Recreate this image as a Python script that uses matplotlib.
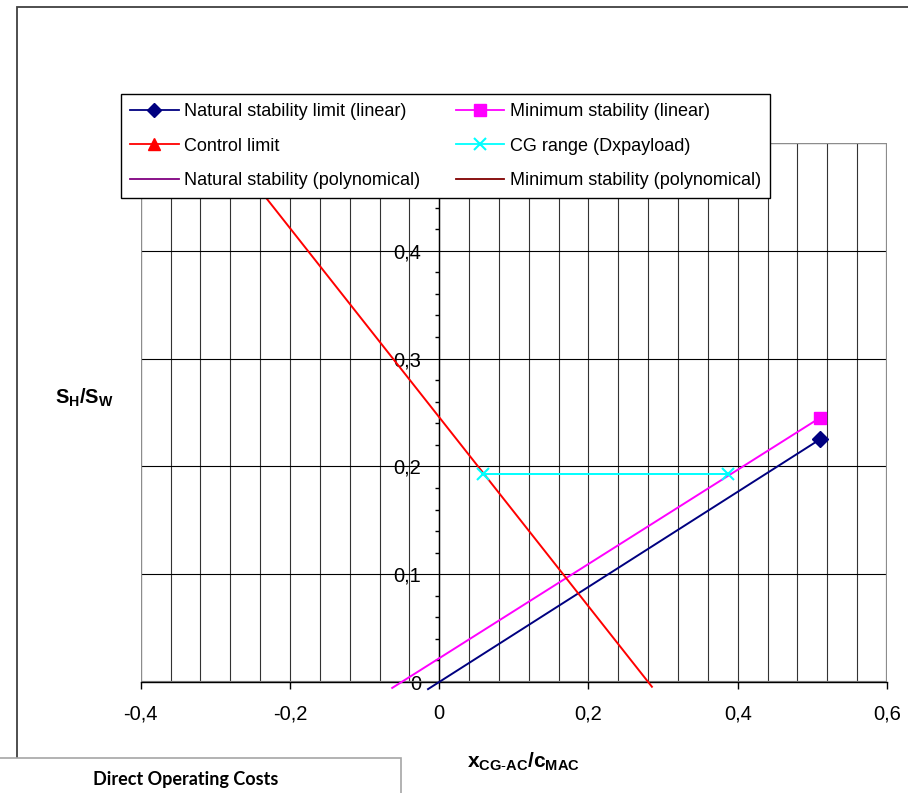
import numpy as np
import matplotlib.pyplot as plt
from matplotlib.lines import Line2D
from matplotlib.patches import Rectangle
from matplotlib.ticker import MultipleLocator, FuncFormatter

W, H = 908, 793

# x = x_cg-ac / c_mac, y = S_H / S_W
nat_x = [-0.015, 0.51]
nat_y = [-0.0066, 0.225]
min_x = [-0.063, 0.51]
min_y = [-0.0055, 0.245]
ctrl_x = [-0.29, 0.285]
ctrl_y = [0.5, -0.0044]
cg_x = [0.058, 0.387]
cg_y = [0.193, 0.193]
# polynomial fits were left empty in the sheet
nat_poly_x, nat_poly_y = [], []
min_poly_x, min_poly_y = [], []

x_ticks = [-0.4, -0.2, 0.0, 0.2, 0.4, 0.6]
y_ticks = [0.0, 0.1, 0.2, 0.3, 0.4, 0.5]


def fx(x):
    return x / W


def fy(y):
    return 1 - y / H


def comma(v, pos=None):
    if abs(v) < 1e-9:
        return "0"
    return ("%g" % round(v, 2)).replace(".", ",")


plt.rcParams['font.family'] = ['Liberation Sans', 'DejaVu Sans']
plt.rcParams['mathtext.fontset'] = 'custom'
plt.rcParams['mathtext.rm'] = 'Liberation Sans'
plt.rcParams['mathtext.it'] = 'Liberation Sans:italic'
plt.rcParams['mathtext.bf'] = 'Liberation Sans:bold'

fig = plt.figure(figsize=(W / 100, H / 100), dpi=100)

# outer chart frame
fig.add_artist(Rectangle((fx(17), fy(800)), fx(915) - fx(17), fy(7) - fy(800),
                         transform=fig.transFigure, fill=False,
                         edgecolor='#404040', lw=1.3, clip_on=False))

ax = fig.add_axes([fx(140.7), fy(682), fx(887) - fx(140.7), fy(143) - fy(682)])
ax.set_xlim(-0.4, 0.6)
ax.set_ylim(0, 0.5)

for s in ['top', 'right']:
    ax.spines[s].set_visible(False)
ax.spines['left'].set_position(('data', 0))
ax.spines['left'].set_linewidth(1.0)
ax.spines['bottom'].set_linewidth(1.0)
ax.add_patch(Rectangle((0, 0), 1, 1, transform=ax.transAxes, fill=False,
                       edgecolor='#8c8c8c', lw=1.6, zorder=1))

ax.set_xticks(x_ticks)
ax.set_yticks(y_ticks)
ax.xaxis.set_minor_locator(MultipleLocator(0.04))
ax.yaxis.set_minor_locator(MultipleLocator(0.02))
ax.xaxis.set_major_formatter(FuncFormatter(comma))
ax.yaxis.set_major_formatter(FuncFormatter(comma))
ax.tick_params(axis='x', which='major', direction='out', length=5, width=1,
               pad=11, labelsize=14.5)
ax.tick_params(axis='x', which='minor', length=0)
ax.tick_params(axis='y', which='major', length=0, pad=13, labelsize=14.5)
ax.tick_params(axis='y', which='minor', direction='out', length=3, width=1)
ax.grid(axis='x', which='both', color='#333333', lw=0.8)
ax.grid(axis='y', which='major', color='black', lw=0.8)
ax.set_axisbelow(True)

ax.plot(nat_x, nat_y, color='#000080', lw=1.4, marker='D', ms=8,
        markevery=[1], clip_on=False, zorder=3)
ax.plot(min_x, min_y, color='#ff00ff', lw=1.4, marker='s', ms=9,
        markevery=[1], clip_on=False, zorder=3)
ax.plot(ctrl_x, ctrl_y, color='#ff0000', lw=1.4, clip_on=False, zorder=3)
ax.plot(cg_x, cg_y, color='#00ffff', lw=1.4, marker='x', ms=9, mew=1.5,
        clip_on=False, zorder=3)
ax.plot(nat_poly_x, nat_poly_y, color='#800080', lw=1.4)
ax.plot(min_poly_x, min_poly_y, color='#800000', lw=1.4)

handles = [
    Line2D([], [], color='#000080', lw=1.3, marker='D', ms=7),
    Line2D([], [], color='#ff0000', lw=1.3, marker='^', ms=8),
    Line2D([], [], color='#800080', lw=1.3),
    Line2D([], [], color='#ff00ff', lw=1.3, marker='s', ms=8),
    Line2D([], [], color='#00ffff', lw=1.3, marker='x', ms=8, mew=1.5),
    Line2D([], [], color='#800000', lw=1.3),
]
labels = [
    'Natural stability limit (linear)',
    'Control limit',
    'Natural stability (polynomical)',
    'Minimum stability (linear)',
    'CG range (Dxpayload)',
    'Minimum stability (polynomical)',
]
leg = fig.legend(handles, labels, ncol=2, loc='upper left',
                 bbox_to_anchor=(fx(121), fy(94)), frameon=True,
                 fancybox=False, edgecolor='black', framealpha=1,
                 fontsize=13, handlelength=2.7, handletextpad=0.3,
                 columnspacing=1.95, labelspacing=0.98, borderpad=0.5,
                 borderaxespad=0)
leg.get_frame().set_linewidth(1.0)

fig.text(fx(84), fy(398), r'$\mathbf{S_H/S_W}$', ha='center', va='center',
         fontsize=14.5)
fig.text(fx(523), fy(762), r'$\mathbf{x_{CG\text{-}AC}/c_{MAC}}$',
         ha='center', va='center', fontsize=15)

# "Direct Operating Costs" box from the next chart on the sheet
fig.add_artist(Rectangle((fx(-5), fy(800)), fx(401) - fx(-5), fy(758) - fy(800),
                         transform=fig.transFigure, facecolor='white',
                         edgecolor='#a6a6a6', lw=1.2, clip_on=False))
fig.text(fx(186), fy(780), 'Direct Operating Costs', ha='center', va='center',
         fontsize=13, fontweight='bold', family=['Lato', 'DejaVu Sans'])

fig.savefig('out.png', dpi=100)
